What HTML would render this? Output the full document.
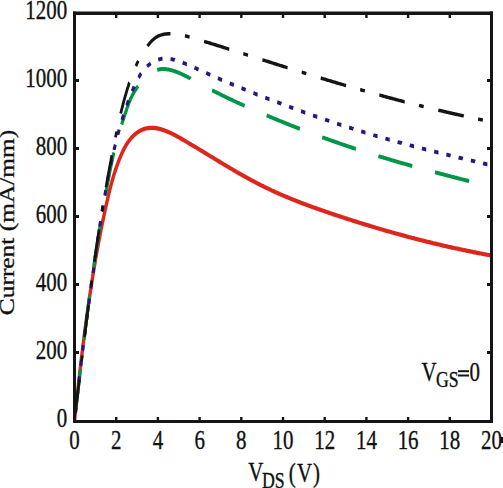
<!DOCTYPE html>
<html><head><meta charset="utf-8"><style>
html,body{margin:0;padding:0;background:#fff;width:503px;height:488px;overflow:hidden}
svg{display:block}
text{font-family:"Liberation Serif",serif;fill:#111;stroke:#111;stroke-width:0.35px}
</style></head><body>
<svg width="503" height="488" viewBox="0 0 503 488">
<g transform="scale(0.79,1)" fill="none" stroke-linejoin="round">
<path d="M94.4,420.4 94.5,419.5 94.7,418.6 94.8,417.7 94.9,416.8 95.0,415.9 95.1,415.0 95.2,414.1 95.4,413.2 95.5,412.4 95.6,411.5 95.7,410.6 95.8,409.7 96.0,408.8 96.1,407.9 96.2,407.0 96.3,406.1 96.4,405.2 96.6,404.3 96.7,403.4 96.8,402.5 96.9,401.6 97.1,400.7 97.2,399.8 97.3,398.9 97.4,398.0 97.5,397.1 97.7,396.2 97.8,395.3 97.9,394.4 98.0,393.5 98.2,392.6 98.3,391.7 98.4,390.9 98.5,390.0 98.7,389.1 98.8,388.2 98.9,387.3 99.0,386.4 99.2,385.5 99.3,384.6 99.4,383.7 99.5,382.8 99.7,381.9 99.8,381.0 99.9,380.1 100.0,379.2 100.2,378.3 100.3,377.4 100.4,376.5 100.6,375.6 100.7,374.7 100.8,373.8 101.0,372.9 101.1,372.0 101.2,371.1 101.3,370.2 101.5,369.3 101.6,368.4 101.7,367.5 101.9,366.6 102.0,365.7 102.1,364.8 102.3,363.9 102.4,363.0 102.5,362.1 102.7,361.2 102.8,360.3 102.9,359.4 103.1,358.5 103.2,357.6 103.4,356.7 103.5,355.8 103.6,354.9 103.8,354.0 103.9,353.0 104.0,352.1 104.2,351.2 104.3,350.3 104.5,349.4 104.6,348.5 104.7,347.6 104.9,346.7 105.0,345.8 105.2,344.9 105.3,344.0 105.4,343.1 105.6,342.2 105.7,341.3 105.9,340.4 106.0,339.5 106.2,338.6 106.3,337.7 106.5,336.8 106.6,335.9 106.7,335.0 106.9,334.1 107.0,333.2 107.2,332.3 107.3,331.4 107.5,330.5 107.6,329.6 107.8,328.7 107.9,327.8 108.1,326.9 108.2,326.0 108.4,325.1 108.5,324.2 108.7,323.3 108.8,322.4 109.0,321.5 109.1,320.6 109.3,319.7 109.5,318.8 109.6,317.9 109.8,317.0 109.9,316.1 110.1,315.2 110.2,314.3 110.4,313.4 110.6,312.5 110.7,311.6 110.9,310.7 111.0,309.8 111.2,308.9 111.4,308.0 111.5,307.1 111.7,306.2 111.8,305.3 112.0,304.4 112.2,303.5 112.3,302.6 112.5,301.7 112.7,300.8 112.8,299.9 113.0,299.0 113.2,298.1 113.3,297.2 113.5,296.3 113.7,295.4 113.8,294.5 114.0,293.6 114.2,292.7 114.4,291.8 114.5,290.9 114.7,290.0 114.9,289.1 115.0,288.2 115.2,287.3 115.4,286.4 115.6,285.5 115.7,284.6 115.9,283.7 116.1,282.8 116.3,281.9 116.5,281.0 116.6,280.1 116.8,279.2 117.0,278.3 117.2,277.4 117.4,276.5 117.5,275.6 117.7,274.7 117.9,273.8 118.1,272.9 118.3,272.1 118.5,271.2 118.7,270.3 118.8,269.4 119.0,268.5 119.2,267.6 119.4,266.7 119.6,265.8 119.8,264.9 120.0,264.0 120.2,263.1 120.4,262.2 120.6,261.3 120.8,260.4 120.9,259.5 121.1,258.6 121.3,257.8 121.5,256.9 121.7,256.0 121.9,255.1 122.1,254.2 122.3,253.3 122.5,252.4 122.7,251.5 122.9,250.6 123.1,249.7 123.3,248.8 123.5,248.0 123.8,247.1 124.0,246.2 124.2,245.3 124.4,244.4 124.6,243.5 124.8,242.6 125.0,241.7 125.2,240.9 125.4,240.0 125.6,239.1 125.8,238.2 126.1,237.3 126.3,236.4 126.5,235.5 126.7,234.7 126.9,233.8 127.1,232.9 127.4,232.0 127.6,231.1 127.8,230.2 128.0,229.3 128.2,228.5 128.5,227.6 128.7,226.7 128.9,225.8 129.1,224.9 129.4,224.1 129.6,223.2 129.8,222.3 130.0,221.4 130.3,220.5 130.5,219.6 130.7,218.8 131.0,217.9 131.2,217.0 131.4,216.1 131.7,215.3 131.9,214.4 132.1,213.5 132.4,212.6 132.6,211.7 132.9,210.9 133.1,210.0 133.3,209.1 133.6,208.2 133.8,207.4 134.1,206.5 134.3,205.6 134.6,204.7 134.8,203.9 135.1,203.0 135.3,202.1 135.5,201.2 135.8,200.4 136.1,199.5 136.3,198.6 136.6,197.8 136.8,196.9 137.1,196.0 137.3,195.1 137.6,194.3 137.9,193.4 138.1,192.5 138.4,191.7 138.7,190.8 138.9,189.9 139.2,189.1 139.5,188.2 139.8,187.3 140.1,186.4 140.3,185.6 140.6,184.7 140.9,183.8 141.2,183.0 141.5,182.1 141.8,181.2 142.1,180.3 142.5,179.5 142.8,178.6 143.1,177.7 143.4,176.8 143.8,176.0 144.1,175.1 144.4,174.2 144.8,173.3 145.1,172.5 145.5,171.6 145.9,170.7 146.2,169.8 146.6,169.0 147.0,168.1 147.4,167.2 147.8,166.3 148.2,165.4 148.6,164.5 149.0,163.7 149.4,162.8 149.8,161.9 150.2,161.0 150.7,160.1 151.1,159.2 151.6,158.3 152.0,157.5 152.5,156.6 153.0,155.7 153.5,154.8 154.0,153.9 154.5,153.0 155.0,152.1 155.5,151.3 156.0,150.4 156.6,149.5 157.1,148.7 157.7,147.8 158.3,147.0 158.9,146.2 159.5,145.3 160.1,144.5 160.8,143.7 161.4,142.9 162.1,142.1 162.8,141.4 163.5,140.6 164.2,139.9 165.0,139.1 165.7,138.4 166.5,137.7 167.3,137.0 168.1,136.4 168.9,135.7 169.8,135.1 170.6,134.5 171.5,133.9 172.4,133.4 173.3,132.8 174.2,132.3 175.1,131.8 176.0,131.4 176.9,130.9 177.9,130.5 178.8,130.1 179.8,129.8 180.7,129.5 181.7,129.2 182.7,128.9 183.6,128.7 184.6,128.5 185.6,128.3 186.6,128.2 187.6,128.1 188.6,128.0 189.6,127.9 190.6,127.9 191.6,127.8 192.6,127.8 193.6,127.9 194.6,127.9 195.6,128.0 196.6,128.1 197.7,128.2 198.7,128.4 199.7,128.5 200.8,128.7 201.8,128.9 202.8,129.1 203.9,129.3 204.9,129.6 206.0,129.8 207.0,130.1 208.1,130.4 209.1,130.7 210.1,131.0 211.2,131.4 212.2,131.7 213.3,132.1 214.3,132.5 215.4,132.8 216.5,133.2 217.5,133.6 218.6,134.0 219.6,134.5 220.7,134.9 221.7,135.3 222.8,135.8 223.8,136.2 224.9,136.7 225.9,137.1 227.0,137.6 228.0,138.1 229.1,138.5 230.1,139.0 231.1,139.5 232.2,140.0 233.2,140.5 234.3,140.9 235.3,141.4 236.3,141.9 237.4,142.4 238.4,142.9 239.4,143.3 240.4,143.8 241.5,144.3 242.5,144.8 243.5,145.3 244.5,145.8 245.5,146.2 246.5,146.7 247.6,147.2 248.6,147.7 249.6,148.2 250.6,148.6 251.6,149.1 252.6,149.6 253.6,150.1 254.6,150.6 255.6,151.0 256.6,151.5 257.6,152.0 258.6,152.5 259.6,153.0 260.6,153.4 261.6,153.9 262.6,154.4 263.6,154.9 264.6,155.3 265.5,155.8 266.5,156.3 267.5,156.8 268.5,157.2 269.5,157.7 270.5,158.2 271.5,158.7 272.4,159.1 273.4,159.6 274.4,160.1 275.4,160.6 276.4,161.0 277.4,161.5 278.3,162.0 279.3,162.4 280.3,162.9 281.3,163.4 282.2,163.8 283.2,164.3 284.2,164.8 285.2,165.2 286.2,165.7 287.1,166.1 288.1,166.6 289.1,167.1 290.1,167.5 291.0,168.0 292.0,168.4 293.0,168.9 294.0,169.4 295.0,169.8 295.9,170.3 296.9,170.7 297.9,171.2 298.9,171.6 299.9,172.1 300.8,172.5 301.8,173.0 302.8,173.4 303.8,173.8 304.8,174.3 305.7,174.7 306.7,175.2 307.7,175.6 308.7,176.0 309.7,176.5 310.7,176.9 311.7,177.3 312.6,177.8 313.6,178.2 314.6,178.6 315.6,179.1 316.6,179.5 317.6,179.9 318.6,180.3 319.6,180.8 320.6,181.2 321.6,181.6 322.6,182.0 323.6,182.4 324.6,182.8 325.6,183.3 326.6,183.7 327.6,184.1 328.6,184.5 329.6,184.9 330.6,185.3 331.6,185.7 332.7,186.1 333.7,186.5 334.7,186.9 335.7,187.3 336.7,187.7 337.8,188.1 338.8,188.5 339.8,188.8 340.8,189.2 341.9,189.6 342.9,190.0 343.9,190.4 345.0,190.8 346.0,191.1 347.0,191.5 348.1,191.9 349.1,192.3 350.2,192.6 351.2,193.0 352.2,193.4 353.3,193.7 354.3,194.1 355.4,194.5 356.4,194.8 357.5,195.2 358.5,195.5 359.6,195.9 360.7,196.2 361.7,196.6 362.8,196.9 363.8,197.3 364.9,197.6 366.0,198.0 367.0,198.3 368.1,198.7 369.1,199.0 370.2,199.4 371.3,199.7 372.3,200.0 373.4,200.4 374.5,200.7 375.6,201.0 376.6,201.4 377.7,201.7 378.8,202.0 379.9,202.4 380.9,202.7 382.0,203.0 383.1,203.4 384.2,203.7 385.2,204.0 386.3,204.3 387.4,204.6 388.5,205.0 389.6,205.3 390.7,205.6 391.7,205.9 392.8,206.2 393.9,206.5 395.0,206.9 396.1,207.2 397.2,207.5 398.3,207.8 399.4,208.1 400.4,208.4 401.5,208.7 402.6,209.0 403.7,209.3 404.8,209.6 405.9,209.9 407.0,210.2 408.1,210.5 409.2,210.8 410.3,211.1 411.4,211.4 412.4,211.7 413.5,212.0 414.6,212.3 415.7,212.6 416.8,212.9 417.9,213.2 419.0,213.5 420.1,213.8 421.2,214.1 422.3,214.4 423.4,214.6 424.5,214.9 425.6,215.2 426.7,215.5 427.8,215.8 428.9,216.1 430.0,216.4 431.1,216.7 432.2,216.9 433.3,217.2 434.4,217.5 435.5,217.8 436.5,218.1 437.6,218.3 438.7,218.6 439.8,218.9 440.9,219.2 442.0,219.5 443.1,219.7 444.2,220.0 445.3,220.3 446.4,220.6 447.5,220.8 448.6,221.1 449.7,221.4 450.8,221.7 451.9,221.9 453.0,222.2 454.1,222.5 455.2,222.8 456.3,223.0 457.4,223.3 458.5,223.6 459.6,223.8 460.7,224.1 461.7,224.4 462.8,224.6 463.9,224.9 465.0,225.2 466.1,225.4 467.2,225.7 468.3,225.9 469.4,226.2 470.5,226.5 471.6,226.7 472.7,227.0 473.8,227.2 474.9,227.5 476.0,227.8 477.1,228.0 478.2,228.3 479.3,228.5 480.4,228.8 481.5,229.0 482.6,229.3 483.7,229.5 484.8,229.8 485.9,230.1 487.0,230.3 488.1,230.6 489.2,230.8 490.3,231.1 491.4,231.3 492.5,231.5 493.6,231.8 494.7,232.0 495.8,232.3 496.9,232.5 498.0,232.8 499.1,233.0 500.2,233.3 501.3,233.5 502.4,233.7 503.5,234.0 504.6,234.2 505.7,234.5 506.8,234.7 507.9,234.9 509.0,235.2 510.1,235.4 511.2,235.7 512.3,235.9 513.4,236.1 514.5,236.4 515.6,236.6 516.7,236.8 517.8,237.1 518.9,237.3 520.0,237.5 521.1,237.8 522.2,238.0 523.3,238.2 524.4,238.4 525.5,238.7 526.6,238.9 527.7,239.1 528.9,239.3 530.0,239.6 531.1,239.8 532.2,240.0 533.3,240.2 534.4,240.5 535.5,240.7 536.6,240.9 537.7,241.1 538.8,241.3 539.9,241.6 541.0,241.8 542.2,242.0 543.3,242.2 544.4,242.4 545.5,242.6 546.6,242.8 547.7,243.1 548.8,243.3 549.9,243.5 551.0,243.7 552.2,243.9 553.3,244.1 554.4,244.3 555.5,244.5 556.6,244.7 557.7,244.9 558.8,245.1 560.0,245.4 561.1,245.6 562.2,245.8 563.3,246.0 564.4,246.2 565.5,246.4 566.7,246.6 567.8,246.8 568.9,247.0 570.0,247.2 571.1,247.4 572.3,247.6 573.4,247.8 574.5,248.0 575.6,248.2 576.8,248.3 577.9,248.5 579.0,248.7 580.1,248.9 581.2,249.1 582.4,249.3 583.5,249.5 584.6,249.7 585.7,249.9 586.9,250.1 588.0,250.2 589.1,250.4 590.3,250.6 591.4,250.8 592.5,251.0 593.6,251.2 594.8,251.4 595.9,251.5 597.0,251.7 598.2,251.9 599.3,252.1 600.4,252.3 601.6,252.4 602.7,252.6 603.8,252.8 605.0,253.0 606.1,253.1 607.2,253.3 608.4,253.5 609.5,253.7 610.6,253.8 611.8,254.0 612.9,254.2 614.0,254.3 615.2,254.5 616.3,254.7 617.5,254.8 618.6,255.0 619.8,255.2 620.9,255.3 621.8,255.5" stroke="#dc281c" stroke-width="4.3"/>
<path d="M95.5,412.5 95.6,411.8 95.7,411.1 95.8,410.4 95.9,409.7 96.0,409.0 96.1,408.2 96.2,407.5 96.4,406.8 96.5,406.1 96.6,405.4 96.7,404.7 96.8,404.0 96.9,403.3 97.0,402.6 97.1,401.9 97.2,401.2 97.3,400.5 97.4,399.8 97.5,399.1 97.6,398.3 97.7,397.6 97.8,396.9 97.9,396.2 98.1,395.5 98.2,394.8 98.3,394.1 98.4,393.4 98.5,392.7 98.6,392.0 98.7,391.3 98.8,390.6 98.9,389.9 99.0,389.2 99.1,388.4 99.2,387.7 99.3,387.0 99.4,386.3 99.5,385.6 99.6,384.9 99.7,384.2 99.8,383.5 100.0,382.8 100.1,382.1 100.2,381.4 100.3,380.7 100.4,380.0 100.5,379.3 100.6,378.6 100.7,377.8 100.8,377.1 100.9,376.4 101.0,375.7 101.1,375.0 101.2,374.3 101.3,373.6 101.4,372.9 101.5,372.2 101.6,371.5 101.7,370.8 101.8,370.1 102.0,369.4 102.0,368.9 M106.4,339.7 106.5,339.2 106.6,338.5 106.7,337.8 106.8,337.1 106.9,336.4 107.0,335.7 107.2,335.0 107.3,334.2 107.4,333.5 107.5,332.8 107.6,332.1 107.7,331.4 107.8,330.7 107.9,330.0 108.0,329.3 108.1,328.6 108.2,327.9 108.4,327.2 108.5,326.5 108.6,325.8 108.7,325.1 108.8,324.4 108.9,323.6 109.0,322.9 109.1,322.2 109.3,321.5 109.4,320.8 109.5,320.1 109.6,319.4 109.7,318.7 109.8,318.0 109.9,317.3 110.0,316.6 110.2,315.9 110.3,315.2 110.4,314.5 110.5,313.8 110.6,313.1 110.7,312.3 110.8,311.6 110.9,310.9 111.1,310.2 111.2,309.5 111.3,308.8 111.4,308.1 111.5,307.4 111.6,306.7 111.8,306.0 111.9,305.3 112.0,304.6 112.1,303.9 112.2,303.2 112.3,302.5 112.5,301.8 112.6,301.1 112.7,300.3 112.8,299.6 112.9,298.9 113.0,298.2 113.2,297.5 113.3,296.8 113.4,296.2 M118.5,267.2 118.6,266.5 118.8,265.8 118.9,265.1 119.0,264.4 119.2,263.7 119.3,263.0 119.4,262.3 119.6,261.6 119.7,260.9 119.8,260.2 120.0,259.5 120.1,258.8 120.2,258.1 120.4,257.3 120.5,256.6 120.6,255.9 120.8,255.2 120.9,254.5 121.1,253.8 121.2,253.1 121.3,252.4 121.5,251.7 121.6,251.0 121.7,250.3 121.9,249.6 122.0,248.9 122.2,248.2 122.3,247.5 122.4,246.8 122.6,246.1 122.7,245.4 122.9,244.7 123.0,244.0 123.1,243.3 123.3,242.6 123.4,241.9 123.6,241.2 123.7,240.5 123.9,239.8 124.0,239.1 124.2,238.4 124.3,237.7 124.4,237.0 124.6,236.2 124.7,235.5 124.9,234.8 125.0,234.1 125.2,233.4 125.3,232.7 125.5,232.0 125.6,231.3 125.8,230.6 125.9,229.9 126.1,229.2 126.2,228.5 126.4,227.8 126.5,227.1 126.6,226.4 126.8,225.7 126.9,225.0 127.1,224.3 127.2,224.0 M133.5,195.2 133.6,194.6 133.8,193.9 134.0,193.2 134.1,192.5 134.3,191.8 134.4,191.1 134.6,190.4 134.8,189.7 134.9,189.0 135.1,188.3 135.2,187.6 135.4,186.9 135.6,186.2 135.7,185.5 135.9,184.8 136.0,184.1 136.2,183.4 136.4,182.7 136.5,182.0 136.7,181.3 136.9,180.6 137.0,179.9 137.2,179.2 137.3,178.5 137.5,177.8 137.7,177.1 137.8,176.4 138.0,175.7 138.2,175.0 138.4,174.4 138.5,173.7 138.7,173.0 138.9,172.3 139.0,171.6 139.2,170.9 139.4,170.2 139.6,169.5 139.7,168.8 139.9,168.1 140.1,167.4 140.3,166.7 140.4,166.0 140.6,165.3 140.8,164.6 141.0,163.9 141.2,163.2 141.4,162.5 141.6,161.8 141.7,161.1 141.9,160.4 142.1,159.7 142.3,159.0 142.5,158.3 142.7,157.6 142.9,156.9 143.1,156.3 143.3,155.6 143.5,154.9 143.7,154.2 143.9,153.5 144.1,152.8 144.2,152.5 M154.0,124.7 154.2,124.1 154.4,123.5 154.7,122.8 155.0,122.1 155.3,121.4 155.5,120.7 155.8,120.1 156.1,119.4 156.4,118.7 156.7,118.0 156.9,117.4 157.2,116.7 157.5,116.0 157.8,115.4 158.1,114.7 158.3,114.0 158.6,113.3 158.9,112.7 159.2,112.0 159.5,111.3 159.8,110.7 160.0,110.0 160.3,109.3 160.6,108.7 160.9,108.0 161.2,107.3 161.5,106.7 161.8,106.0 162.1,105.4 162.4,104.7 162.7,104.0 163.0,103.4 163.3,102.7 163.6,102.1 163.9,101.4 164.3,100.8 164.6,100.1 165.0,99.5 165.3,98.8 165.7,98.2 166.1,97.6 166.5,96.9 166.9,96.3 167.3,95.6 167.7,95.0 168.1,94.4 168.6,93.8 169.0,93.1 169.5,92.5 169.9,91.9 170.4,91.3 170.9,90.7 171.4,90.0 171.9,89.4 172.4,88.8 172.9,88.2 173.4,87.6 173.9,87.0 174.5,86.5 174.8,86.2 M199.0,70.0 199.8,69.8 200.6,69.6 201.5,69.4 202.3,69.3 203.2,69.2 204.0,69.1 204.9,69.1 205.7,69.1 206.6,69.0 207.5,69.0 208.3,69.1 209.2,69.1 210.1,69.2 210.9,69.3 211.8,69.4 212.7,69.5 213.6,69.6 214.4,69.7 215.3,69.9 216.2,70.1 217.1,70.2 217.9,70.4 218.8,70.6 219.7,70.8 220.5,71.1 221.4,71.3 222.3,71.5 223.1,71.8 224.0,72.0 224.8,72.3 225.6,72.6 226.5,72.8 227.3,73.1 228.1,73.4 229.0,73.7 229.8,74.0 230.6,74.3 231.4,74.6 232.2,74.9 233.0,75.2 233.9,75.5 234.7,75.8 235.5,76.2 236.3,76.5 237.1,76.8 237.9,77.1 238.7,77.5 239.5,77.8 240.3,78.2 241.1,78.5 241.4,78.7 M268.5,90.3 269.1,90.5 269.9,90.8 270.7,91.1 271.5,91.5 272.3,91.8 273.2,92.1 274.0,92.4 274.8,92.8 275.6,93.1 276.4,93.4 277.2,93.7 278.0,94.0 278.8,94.3 279.6,94.7 280.4,95.0 281.2,95.3 282.0,95.6 282.8,95.9 283.6,96.2 284.5,96.5 285.3,96.9 286.1,97.2 286.9,97.5 287.7,97.8 288.5,98.1 289.3,98.4 290.1,98.7 291.0,99.0 291.8,99.3 292.6,99.6 293.4,99.9 294.2,100.2 295.0,100.5 295.8,100.8 296.7,101.1 297.5,101.4 298.3,101.7 299.1,102.0 299.9,102.3 300.7,102.6 301.6,102.9 302.4,103.2 303.2,103.5 304.0,103.8 304.8,104.1 305.7,104.4 306.5,104.7 307.3,105.0 308.1,105.3 308.9,105.6 309.7,105.9 M337.6,115.4 338.4,115.7 339.2,116.0 340.1,116.2 340.9,116.5 341.7,116.8 342.5,117.1 343.4,117.3 344.2,117.6 345.0,117.9 345.9,118.2 346.7,118.4 347.5,118.7 348.4,119.0 349.2,119.3 350.0,119.5 350.9,119.8 351.7,120.1 352.5,120.3 353.4,120.6 354.2,120.9 355.0,121.1 355.9,121.4 356.7,121.7 357.5,121.9 358.4,122.2 359.2,122.5 360.1,122.7 360.9,123.0 361.7,123.3 362.6,123.5 363.4,123.8 364.2,124.1 365.1,124.3 365.9,124.6 366.7,124.9 367.6,125.1 368.4,125.4 369.3,125.7 370.1,125.9 370.9,126.2 371.8,126.4 372.6,126.7 373.5,127.0 374.3,127.2 375.1,127.5 376.0,127.7 376.8,128.0 377.7,128.3 378.5,128.5 379.3,128.8 379.6,128.9 M407.9,137.3 408.6,137.5 409.4,137.7 410.3,137.9 411.1,138.2 412.0,138.4 412.8,138.7 413.7,138.9 414.5,139.1 415.4,139.4 416.2,139.6 417.1,139.9 417.9,140.1 418.8,140.3 419.6,140.6 420.5,140.8 421.3,141.1 422.2,141.3 423.0,141.5 423.9,141.8 424.7,142.0 425.6,142.2 426.4,142.5 427.3,142.7 428.1,142.9 429.0,143.2 429.8,143.4 430.7,143.6 431.5,143.9 432.4,144.1 433.2,144.3 434.1,144.6 434.9,144.8 435.8,145.0 436.6,145.2 437.5,145.5 438.3,145.7 439.2,145.9 440.1,146.2 440.9,146.4 441.8,146.6 442.6,146.8 443.5,147.1 444.3,147.3 445.2,147.5 446.0,147.7 446.9,148.0 447.7,148.2 448.6,148.4 449.5,148.6 450.3,148.9 450.4,148.9 M479.0,156.1 479.8,156.3 480.7,156.5 481.5,156.7 482.4,156.9 483.2,157.1 484.1,157.3 485.0,157.5 485.8,157.7 486.7,157.9 487.6,158.1 488.4,158.3 489.3,158.5 490.1,158.7 491.0,158.9 491.9,159.1 492.7,159.3 493.6,159.6 494.5,159.8 495.3,160.0 496.2,160.2 497.1,160.4 497.9,160.6 498.8,160.8 499.7,161.0 500.5,161.2 501.4,161.4 502.2,161.6 503.1,161.8 504.0,162.0 504.8,162.2 505.7,162.4 506.6,162.6 507.4,162.8 508.3,163.0 509.2,163.2 510.0,163.4 510.9,163.6 511.8,163.7 512.6,163.9 513.5,164.1 514.4,164.3 515.2,164.5 516.1,164.7 517.0,164.9 517.8,165.1 518.7,165.3 519.6,165.5 520.4,165.7 521.3,165.9 521.9,166.0 M550.7,172.3 551.4,172.4 552.3,172.6 553.2,172.8 554.0,173.0 554.9,173.2 555.8,173.3 556.7,173.5 557.5,173.7 558.4,173.9 559.3,174.1 560.1,174.2 561.0,174.4 561.9,174.6 562.8,174.8 563.6,175.0 564.5,175.2 565.4,175.3 566.2,175.5 567.1,175.7 568.0,175.9 568.9,176.1 569.7,176.2 570.6,176.4 571.5,176.6 572.4,176.8 573.2,176.9 574.1,177.1 575.0,177.3 575.8,177.5 576.7,177.7 577.6,177.8 578.5,178.0 579.3,178.2 580.2,178.4 581.1,178.5 582.0,178.7 582.8,178.9 583.7,179.1 584.6,179.2 585.4,179.4 586.3,179.6 587.2,179.8 588.1,179.9 588.9,180.1 589.8,180.3 590.7,180.5 591.6,180.6 592.4,180.8 593.3,181.0 593.9,181.1" stroke="#009648" stroke-width="4" stroke-linecap="butt"/>
<path d="M95.4,413.0 95.5,412.3 95.6,411.6 95.7,410.8 95.8,410.1 95.9,409.4 96.0,408.7 96.1,407.9 96.2,407.5 M97.6,397.4 97.7,396.8 97.8,396.1 97.9,395.4 98.0,394.6 98.1,393.9 98.2,393.2 98.3,392.5 98.4,391.9 M99.8,381.8 99.9,381.1 100.1,380.4 100.2,379.7 100.3,378.9 100.4,378.2 100.5,377.5 100.6,376.8 100.7,376.3 M102.2,366.2 102.3,365.7 102.4,365.0 102.5,364.2 102.6,363.5 102.7,362.8 102.8,362.1 102.9,361.3 103.0,360.8 M104.6,350.6 104.7,350.0 104.8,349.3 104.9,348.6 105.1,347.9 105.2,347.1 105.3,346.4 105.4,345.7 105.5,345.2 M107.1,335.1 107.2,334.4 107.3,333.7 107.5,333.0 107.6,332.2 107.7,331.5 107.8,330.8 107.9,330.1 108.0,329.6 M109.7,319.5 109.8,319.0 109.9,318.3 110.0,317.6 110.1,316.9 110.2,316.1 110.4,315.4 110.5,314.7 110.6,314.1 M112.3,304.0 112.4,303.4 112.5,302.7 112.7,302.0 112.8,301.2 112.9,300.5 113.0,299.8 113.2,299.1 113.2,298.6 M115.0,288.5 115.1,287.8 115.2,287.1 115.4,286.4 115.5,285.6 115.6,284.9 115.7,284.2 115.9,283.5 115.9,283.1 M117.7,273.0 117.8,272.4 118.0,271.7 118.1,271.0 118.2,270.2 118.3,269.5 118.5,268.8 118.6,268.1 118.7,267.5 M120.5,257.5 120.6,256.8 120.8,256.1 120.9,255.3 121.0,254.6 121.2,253.9 121.3,253.2 121.4,252.4 121.5,252.0 M123.3,242.0 123.5,241.4 123.6,240.6 123.7,239.9 123.9,239.2 124.0,238.5 124.1,237.7 124.3,237.0 124.3,236.5 M126.3,226.5 126.4,225.9 126.5,225.2 126.6,224.5 126.8,223.8 126.9,223.1 127.1,222.3 127.2,221.6 127.3,221.1 M129.3,211.0 129.5,210.3 129.6,209.6 129.8,208.9 129.9,208.1 130.1,207.4 130.2,206.7 130.4,206.0 130.4,205.6 M132.6,195.6 132.8,195.0 132.9,194.2 133.1,193.5 133.2,192.8 133.4,192.1 133.6,191.4 133.7,190.6 133.8,190.2 M136.2,180.3 136.3,179.7 136.5,178.9 136.7,178.2 136.8,177.5 137.0,176.8 137.2,176.1 137.4,175.4 137.5,174.9 M140.1,165.0 140.2,164.5 140.4,163.7 140.6,163.0 140.8,162.3 141.0,161.6 141.2,160.9 141.4,160.2 141.5,159.7 M144.4,149.8 144.5,149.3 144.7,148.6 144.9,147.9 145.2,147.2 145.4,146.5 145.6,145.8 145.8,145.1 146.0,144.6 M149.1,134.8 149.3,134.1 149.6,133.4 149.8,132.7 150.1,132.0 150.3,131.3 150.5,130.6 150.8,130.0 150.9,129.6 M154.4,120.0 154.7,119.3 154.9,118.6 155.2,117.9 155.5,117.2 155.7,116.5 156.0,115.8 156.3,115.1 156.4,114.9 M160.4,105.4 160.7,104.8 161.0,104.1 161.3,103.4 161.6,102.7 161.9,102.0 162.2,101.3 162.6,100.7 162.7,100.4 M167.3,91.2 167.5,90.8 167.9,90.1 168.3,89.4 168.6,88.7 169.0,88.0 169.4,87.3 169.8,86.7 169.9,86.4 M175.3,77.7 175.7,77.3 176.2,76.6 176.6,76.0 177.1,75.3 177.6,74.7 178.1,74.1 178.6,73.5 178.7,73.4 M186.2,66.4 186.7,66.0 187.4,65.5 188.1,65.0 188.8,64.6 189.5,64.1 190.3,63.7 190.8,63.4 M200.3,59.6 201.1,59.4 201.9,59.2 202.8,59.1 203.6,58.9 204.5,58.8 205.4,58.7 205.7,58.7 M215.9,59.0 216.6,59.1 217.5,59.2 218.4,59.4 219.3,59.6 220.2,59.7 221.1,59.9 221.3,60.0 M231.2,62.6 232.0,62.9 232.9,63.2 233.8,63.4 234.6,63.7 235.5,64.0 236.4,64.3 236.5,64.3 M246.2,67.6 246.9,67.9 247.7,68.2 248.6,68.5 249.4,68.8 250.3,69.1 251.1,69.4 251.4,69.5 M261.0,72.9 261.7,73.2 262.5,73.5 263.4,73.8 264.2,74.1 265.0,74.4 265.9,74.7 266.2,74.8 M275.9,78.2 276.5,78.4 277.3,78.7 278.2,79.0 279.0,79.3 279.9,79.6 280.7,79.9 281.1,80.0 M290.8,83.3 291.4,83.5 292.3,83.8 293.1,84.0 294.0,84.3 294.8,84.6 295.6,84.9 296.0,85.0 M305.7,88.2 306.4,88.4 307.3,88.7 308.1,89.0 309.0,89.2 309.9,89.5 310.7,89.8 311.0,89.9 M320.8,93.0 321.6,93.2 322.4,93.5 323.3,93.8 324.1,94.0 325.0,94.3 325.8,94.6 326.0,94.6 M335.8,97.6 336.5,97.8 337.3,98.1 338.2,98.4 339.0,98.6 339.9,98.9 340.8,99.2 341.1,99.2 M350.9,102.2 351.7,102.4 352.6,102.7 353.4,103.0 354.3,103.2 355.1,103.5 356.0,103.7 356.2,103.8 M366.0,106.7 366.7,106.9 367.5,107.1 368.4,107.4 369.3,107.6 370.1,107.9 371.0,108.1 371.3,108.2 M381.1,111.1 382.0,111.3 382.8,111.6 383.7,111.8 384.6,112.1 385.4,112.3 386.3,112.6 386.4,112.6 M396.3,115.4 397.0,115.6 397.9,115.8 398.8,116.1 399.6,116.3 400.5,116.5 401.4,116.8 401.6,116.8 M411.5,119.5 412.1,119.7 413.0,120.0 413.8,120.2 414.7,120.4 415.6,120.7 416.5,120.9 416.8,121.0 M426.7,123.6 427.5,123.8 428.4,124.1 429.3,124.3 430.1,124.5 431.0,124.7 431.9,125.0 432.0,125.0 M441.9,127.5 442.7,127.7 443.6,128.0 444.5,128.2 445.3,128.4 446.2,128.6 447.1,128.8 447.3,128.9 M457.2,131.3 458.0,131.5 458.8,131.7 459.7,131.9 460.6,132.1 461.5,132.4 462.4,132.6 462.6,132.6 M472.6,135.0 473.3,135.2 474.1,135.4 475.0,135.6 475.9,135.8 476.8,136.0 477.7,136.2 477.9,136.2 M487.9,138.5 488.6,138.7 489.5,138.9 490.4,139.1 491.3,139.3 492.2,139.5 493.0,139.7 493.3,139.7 M503.3,141.9 504.0,142.1 504.9,142.3 505.8,142.5 506.7,142.6 507.6,142.8 508.5,143.0 508.7,143.1 M518.7,145.2 519.4,145.4 520.3,145.6 521.2,145.7 522.1,145.9 523.0,146.1 523.9,146.3 524.1,146.3 M534.1,148.4 534.9,148.6 535.8,148.8 536.7,148.9 537.6,149.1 538.5,149.3 539.4,149.5 539.5,149.5 M549.6,151.5 550.4,151.7 551.3,151.9 552.2,152.1 553.1,152.2 554.0,152.4 554.9,152.6 555.0,152.6 M565.0,154.6 565.9,154.7 566.8,154.9 567.7,155.1 568.6,155.3 569.5,155.4 570.4,155.6 570.4,155.6 M580.5,157.5 581.1,157.7 582.0,157.8 582.9,158.0 583.8,158.2 584.7,158.4 585.6,158.5 585.9,158.6 M596.0,160.5 596.7,160.6 597.6,160.8 598.5,160.9 599.4,161.1 600.3,161.3 601.2,161.4 601.4,161.5 M611.5,163.3 612.2,163.5 613.1,163.7 614.0,163.8 614.9,164.0 615.8,164.1 616.7,164.3 616.9,164.3" stroke="#2c1480" stroke-width="3.9" stroke-linecap="butt"/>
<path d="M95.5,412.2 95.5,411.6 95.7,410.9 95.8,410.1 95.9,409.4 96.0,408.7 96.1,407.9 96.2,407.2 96.3,406.5 96.4,405.7 96.6,405.0 96.7,404.2 96.8,403.5 96.9,402.8 97.0,402.0 97.1,401.3 97.2,400.5 97.4,399.8 97.5,399.1 97.6,398.3 97.7,397.6 97.8,396.9 97.9,396.1 98.0,395.4 98.1,394.6 98.3,393.9 98.4,393.2 98.5,392.4 98.6,391.7 98.7,391.0 98.8,390.2 98.9,389.5 99.0,388.7 99.2,388.0 99.3,387.3 99.4,386.5 99.5,385.8 99.6,385.0 99.7,384.3 99.8,383.6 99.9,382.8 100.1,382.1 100.2,381.4 100.3,380.6 100.4,379.9 100.4,379.7 M103.2,361.5 103.3,360.9 103.4,360.2 103.5,359.4 103.6,358.7 103.7,358.0 103.9,357.2 104.0,356.5 104.1,355.7 104.1,355.6 M107.0,337.0 107.1,336.3 107.2,335.6 107.3,334.8 107.4,334.1 107.6,333.3 107.7,332.6 107.8,331.9 107.9,331.1 108.0,330.4 108.1,329.6 108.3,328.9 108.4,328.2 108.5,327.4 108.6,326.7 108.7,326.0 108.8,325.2 109.0,324.5 109.1,323.7 109.2,323.0 109.3,322.3 109.4,321.5 109.5,320.8 109.7,320.0 109.8,319.3 109.9,318.6 110.0,317.8 110.1,317.1 110.3,316.4 110.4,315.6 110.5,314.9 110.6,314.1 110.7,313.4 110.8,312.7 111.0,311.9 111.1,311.2 111.2,310.4 111.3,309.7 111.4,309.0 111.6,308.2 111.7,307.5 111.8,306.8 111.9,306.0 112.0,305.3 112.2,304.5 M115.2,286.4 115.3,285.8 115.4,285.1 115.5,284.4 115.6,283.6 115.8,282.9 115.9,282.2 116.0,281.4 116.2,280.7 116.2,280.5 M119.4,261.9 119.5,261.3 119.7,260.5 119.8,259.8 119.9,259.1 120.1,258.3 120.2,257.6 120.3,256.8 120.5,256.1 120.6,255.4 120.7,254.6 120.9,253.9 121.0,253.2 121.1,252.4 121.3,251.7 121.4,251.0 121.5,250.2 121.7,249.5 121.8,248.7 122.0,248.0 122.1,247.3 122.2,246.5 122.4,245.8 122.5,245.1 122.6,244.3 122.8,243.6 122.9,242.9 123.1,242.1 123.2,241.4 123.3,240.6 123.5,239.9 123.6,239.2 123.7,238.4 123.9,237.7 124.0,237.0 124.2,236.2 124.3,235.5 124.4,234.8 124.6,234.0 124.7,233.3 124.9,232.5 125.0,231.8 125.2,231.1 125.3,230.3 125.4,229.6 M129.0,211.5 129.2,211.0 129.3,210.3 129.5,209.5 129.6,208.8 129.8,208.1 129.9,207.3 130.1,206.6 130.2,205.9 130.3,205.7 M134.2,187.2 134.4,186.5 134.5,185.8 134.7,185.1 134.9,184.3 135.0,183.6 135.2,182.9 135.3,182.1 135.5,181.4 135.7,180.7 135.8,179.9 136.0,179.2 136.2,178.5 136.3,177.8 136.5,177.0 136.7,176.3 136.8,175.6 137.0,174.8 137.2,174.1 137.3,173.4 137.5,172.6 137.7,171.9 137.9,171.2 138.0,170.4 138.2,169.7 138.4,169.0 138.5,168.2 138.7,167.5 138.9,166.8 139.1,166.0 139.2,165.3 139.4,164.6 139.6,163.9 139.7,163.1 139.9,162.4 140.1,161.7 140.3,160.9 140.5,160.2 140.6,159.5 140.8,158.7 141.0,158.0 141.2,157.3 141.3,156.5 141.5,155.8 141.7,155.3 M146.2,137.4 146.3,136.9 146.5,136.1 146.7,135.4 146.9,134.7 147.1,133.9 147.3,133.2 147.5,132.5 147.7,131.8 147.7,131.6 M152.8,113.5 153.0,112.9 153.2,112.2 153.4,111.4 153.7,110.7 153.9,110.0 154.1,109.3 154.3,108.6 154.6,107.8 154.8,107.1 155.0,106.4 155.3,105.7 155.5,105.0 155.7,104.2 156.0,103.5 156.2,102.8 156.4,102.1 156.7,101.4 156.9,100.6 157.2,99.9 157.4,99.2 157.7,98.5 157.9,97.8 158.2,97.1 158.4,96.3 158.7,95.6 159.0,94.9 159.2,94.2 159.5,93.5 159.8,92.8 160.0,92.1 160.3,91.3 160.6,90.6 160.8,89.9 161.1,89.2 161.4,88.5 161.7,87.8 162.0,87.1 162.3,86.4 162.6,85.7 162.8,85.0 163.1,84.2 163.4,83.5 163.7,82.8 163.9,82.6 M172.0,66.0 172.3,65.5 172.7,64.8 173.1,64.1 173.5,63.4 173.9,62.8 174.3,62.1 174.8,61.4 175.1,60.9 M186.7,46.1 187.1,45.6 187.7,45.0 188.3,44.4 188.9,43.8 189.5,43.2 190.1,42.6 190.8,42.1 191.4,41.5 192.1,41.0 192.8,40.4 193.4,39.9 194.1,39.4 194.8,39.0 195.5,38.5 196.3,38.1 197.0,37.6 197.7,37.2 198.5,36.9 199.3,36.5 200.1,36.2 200.9,35.9 201.7,35.6 202.5,35.4 203.4,35.1 204.2,34.9 205.1,34.7 205.9,34.5 206.8,34.4 207.7,34.2 208.6,34.1 209.5,34.0 210.4,33.9 211.3,33.9 212.2,33.8 213.1,33.8 214.0,33.7 215.0,33.7 215.8,33.7 M234.1,35.8 234.7,35.9 235.7,36.1 236.6,36.3 237.6,36.5 238.5,36.7 239.4,36.9 240.0,37.0 M258.3,41.4 259.1,41.6 259.9,41.8 260.8,42.0 261.7,42.2 262.6,42.4 263.5,42.6 264.4,42.8 265.3,43.0 266.2,43.3 267.1,43.5 268.0,43.7 268.8,43.9 269.7,44.1 270.6,44.3 271.5,44.6 272.4,44.8 273.3,45.0 274.2,45.2 275.1,45.5 276.0,45.7 276.9,45.9 277.8,46.1 278.7,46.3 279.6,46.6 280.5,46.8 281.4,47.0 282.3,47.2 283.2,47.5 284.1,47.7 285.0,47.9 285.9,48.1 286.8,48.4 287.7,48.6 288.6,48.8 289.5,49.1 290.2,49.2 M308.0,53.7 308.9,53.9 309.8,54.2 310.7,54.4 311.6,54.6 312.5,54.8 313.4,55.1 313.9,55.2 M332.2,59.8 332.9,60.0 333.8,60.2 334.7,60.4 335.6,60.6 336.5,60.9 337.4,61.1 338.3,61.3 339.2,61.5 340.1,61.8 341.0,62.0 341.9,62.2 342.7,62.4 343.6,62.7 344.5,62.9 345.4,63.1 346.3,63.3 347.2,63.6 348.1,63.8 349.0,64.0 349.9,64.2 350.8,64.5 351.7,64.7 352.6,64.9 353.5,65.1 354.4,65.4 355.3,65.6 356.2,65.8 357.1,66.0 358.0,66.3 358.9,66.5 359.8,66.7 360.7,66.9 361.6,67.1 362.5,67.4 363.4,67.6 364.0,67.7 M381.9,72.2 382.6,72.3 383.5,72.6 384.4,72.8 385.3,73.0 386.2,73.2 387.1,73.4 387.7,73.6 M406.0,78.0 406.9,78.2 407.8,78.5 408.7,78.7 409.6,78.9 410.5,79.1 411.4,79.3 412.3,79.5 413.2,79.7 414.1,80.0 415.0,80.2 415.9,80.4 416.8,80.6 417.7,80.8 418.6,81.0 419.5,81.2 420.4,81.5 421.3,81.7 422.2,81.9 423.1,82.1 424.0,82.3 424.9,82.5 425.8,82.7 426.7,83.0 427.6,83.2 428.5,83.4 429.4,83.6 430.3,83.8 431.2,84.0 432.2,84.2 433.1,84.4 434.0,84.6 434.9,84.9 435.8,85.1 436.7,85.3 437.6,85.5 438.0,85.6 M455.9,89.7 456.6,89.8 457.5,90.0 458.4,90.2 459.3,90.4 460.2,90.6 461.1,90.8 461.8,91.0 M480.2,95.1 481.1,95.2 482.0,95.4 482.9,95.6 483.8,95.8 484.7,96.0 485.6,96.2 486.5,96.4 487.4,96.6 488.3,96.8 489.2,97.0 490.2,97.2 491.1,97.4 492.0,97.6 492.9,97.8 493.8,98.0 494.7,98.2 495.6,98.3 496.5,98.5 497.4,98.7 498.3,98.9 499.3,99.1 500.2,99.3 501.1,99.5 502.0,99.7 502.9,99.9 503.8,100.1 504.7,100.3 505.6,100.4 506.5,100.6 507.4,100.8 508.4,101.0 509.3,101.2 510.2,101.4 511.1,101.6 512.0,101.8 512.3,101.8 M530.4,105.4 531.2,105.6 532.1,105.8 533.0,106.0 533.9,106.1 534.8,106.3 535.8,106.5 536.3,106.6 M554.8,110.1 555.6,110.3 556.5,110.5 557.4,110.6 558.3,110.8 559.3,111.0 560.2,111.1 561.1,111.3 562.0,111.5 562.9,111.7 563.8,111.8 564.8,112.0 565.7,112.2 566.6,112.3 567.5,112.5 568.4,112.7 569.3,112.8 570.3,113.0 571.2,113.2 572.1,113.3 573.0,113.5 573.9,113.7 574.9,113.8 575.8,114.0 576.7,114.2 577.6,114.3 578.5,114.5 579.4,114.6 580.4,114.8 581.3,115.0 582.2,115.1 583.1,115.3 584.0,115.5 585.0,115.6 585.9,115.8 586.8,115.9 587.1,116.0 M605.2,119.1 606.1,119.2 607.1,119.4 608.0,119.5 608.9,119.7 609.8,119.8 610.7,120.0 611.2,120.1" stroke="#151515" stroke-width="3.5" stroke-linecap="butt"/>
</g>
<g fill="#151515">
<rect x="73" y="11.5" width="420" height="3.5"/>
<rect x="73" y="420" width="420" height="3"/>
<rect x="73" y="11.5" width="3" height="411.5"/>
<rect x="490" y="11.5" width="3" height="411.5"/>
<rect x="76" y="351.0" width="3" height="3"/><rect x="487" y="351.0" width="3" height="3"/><rect x="76" y="283.0" width="3" height="3"/><rect x="487" y="283.0" width="3" height="3"/><rect x="76" y="215.0" width="3" height="3"/><rect x="487" y="215.0" width="3" height="3"/><rect x="76" y="147.0" width="3" height="3"/><rect x="487" y="147.0" width="3" height="3"/><rect x="76" y="79.0" width="3" height="3"/><rect x="487" y="79.0" width="3" height="3"/><rect x="115.0" y="417" width="2.4" height="3"/><rect x="115.0" y="15" width="2.4" height="3"/><rect x="156.7" y="417" width="2.4" height="3"/><rect x="156.7" y="15" width="2.4" height="3"/><rect x="198.4" y="417" width="2.4" height="3"/><rect x="198.4" y="15" width="2.4" height="3"/><rect x="240.1" y="417" width="2.4" height="3"/><rect x="240.1" y="15" width="2.4" height="3"/><rect x="281.8" y="417" width="2.4" height="3"/><rect x="281.8" y="15" width="2.4" height="3"/><rect x="323.5" y="417" width="2.4" height="3"/><rect x="323.5" y="15" width="2.4" height="3"/><rect x="365.2" y="417" width="2.4" height="3"/><rect x="365.2" y="15" width="2.4" height="3"/><rect x="406.9" y="417" width="2.4" height="3"/><rect x="406.9" y="15" width="2.4" height="3"/><rect x="448.6" y="417" width="2.4" height="3"/><rect x="448.6" y="15" width="2.4" height="3"/>
<rect x="500.5" y="437" width="3" height="6"/>
<rect x="458" y="370.2" width="11" height="2"/><rect x="458" y="374.5" width="11" height="2"/>
</g>
<g transform="scale(0.79,1)" font-size="26.5">
<text x="85.1" y="427.1" text-anchor="end">0</text><text x="85.1" y="359.1" text-anchor="end">200</text><text x="85.1" y="291.1" text-anchor="end">400</text><text x="85.1" y="223.1" text-anchor="end">600</text><text x="85.1" y="155.1" text-anchor="end">800</text><text x="85.1" y="87.1" text-anchor="end">1000</text><text x="85.1" y="19.1" text-anchor="end">1200</text><text x="94.3" y="449.5" text-anchor="middle">0</text><text x="147.1" y="449.5" text-anchor="middle">2</text><text x="199.9" y="449.5" text-anchor="middle">4</text><text x="252.7" y="449.5" text-anchor="middle">6</text><text x="305.4" y="449.5" text-anchor="middle">8</text><text x="358.2" y="449.5" text-anchor="middle">10</text><text x="411.0" y="449.5" text-anchor="middle">12</text><text x="463.8" y="449.5" text-anchor="middle">14</text><text x="516.6" y="449.5" text-anchor="middle">16</text><text x="569.4" y="449.5" text-anchor="middle">18</text><text x="622.2" y="449.5" text-anchor="middle">20</text>
<text x="314.3" y="481.4">V</text>
<text x="331.6" y="487.8" font-size="22.5">DS</text>
<text x="365.6" y="481.8" letter-spacing="1.4">(V)</text>
<text x="533.7" y="381">V</text>
<text x="551.9" y="386.8" font-size="22.5">GS</text>
<text x="594.4" y="380.6">0</text>
</g>
<text transform="scale(0.79,1) translate(17.47,315.2) rotate(-90)" font-size="25.4">Current (mA/mm)</text>
</svg>
</body></html>
